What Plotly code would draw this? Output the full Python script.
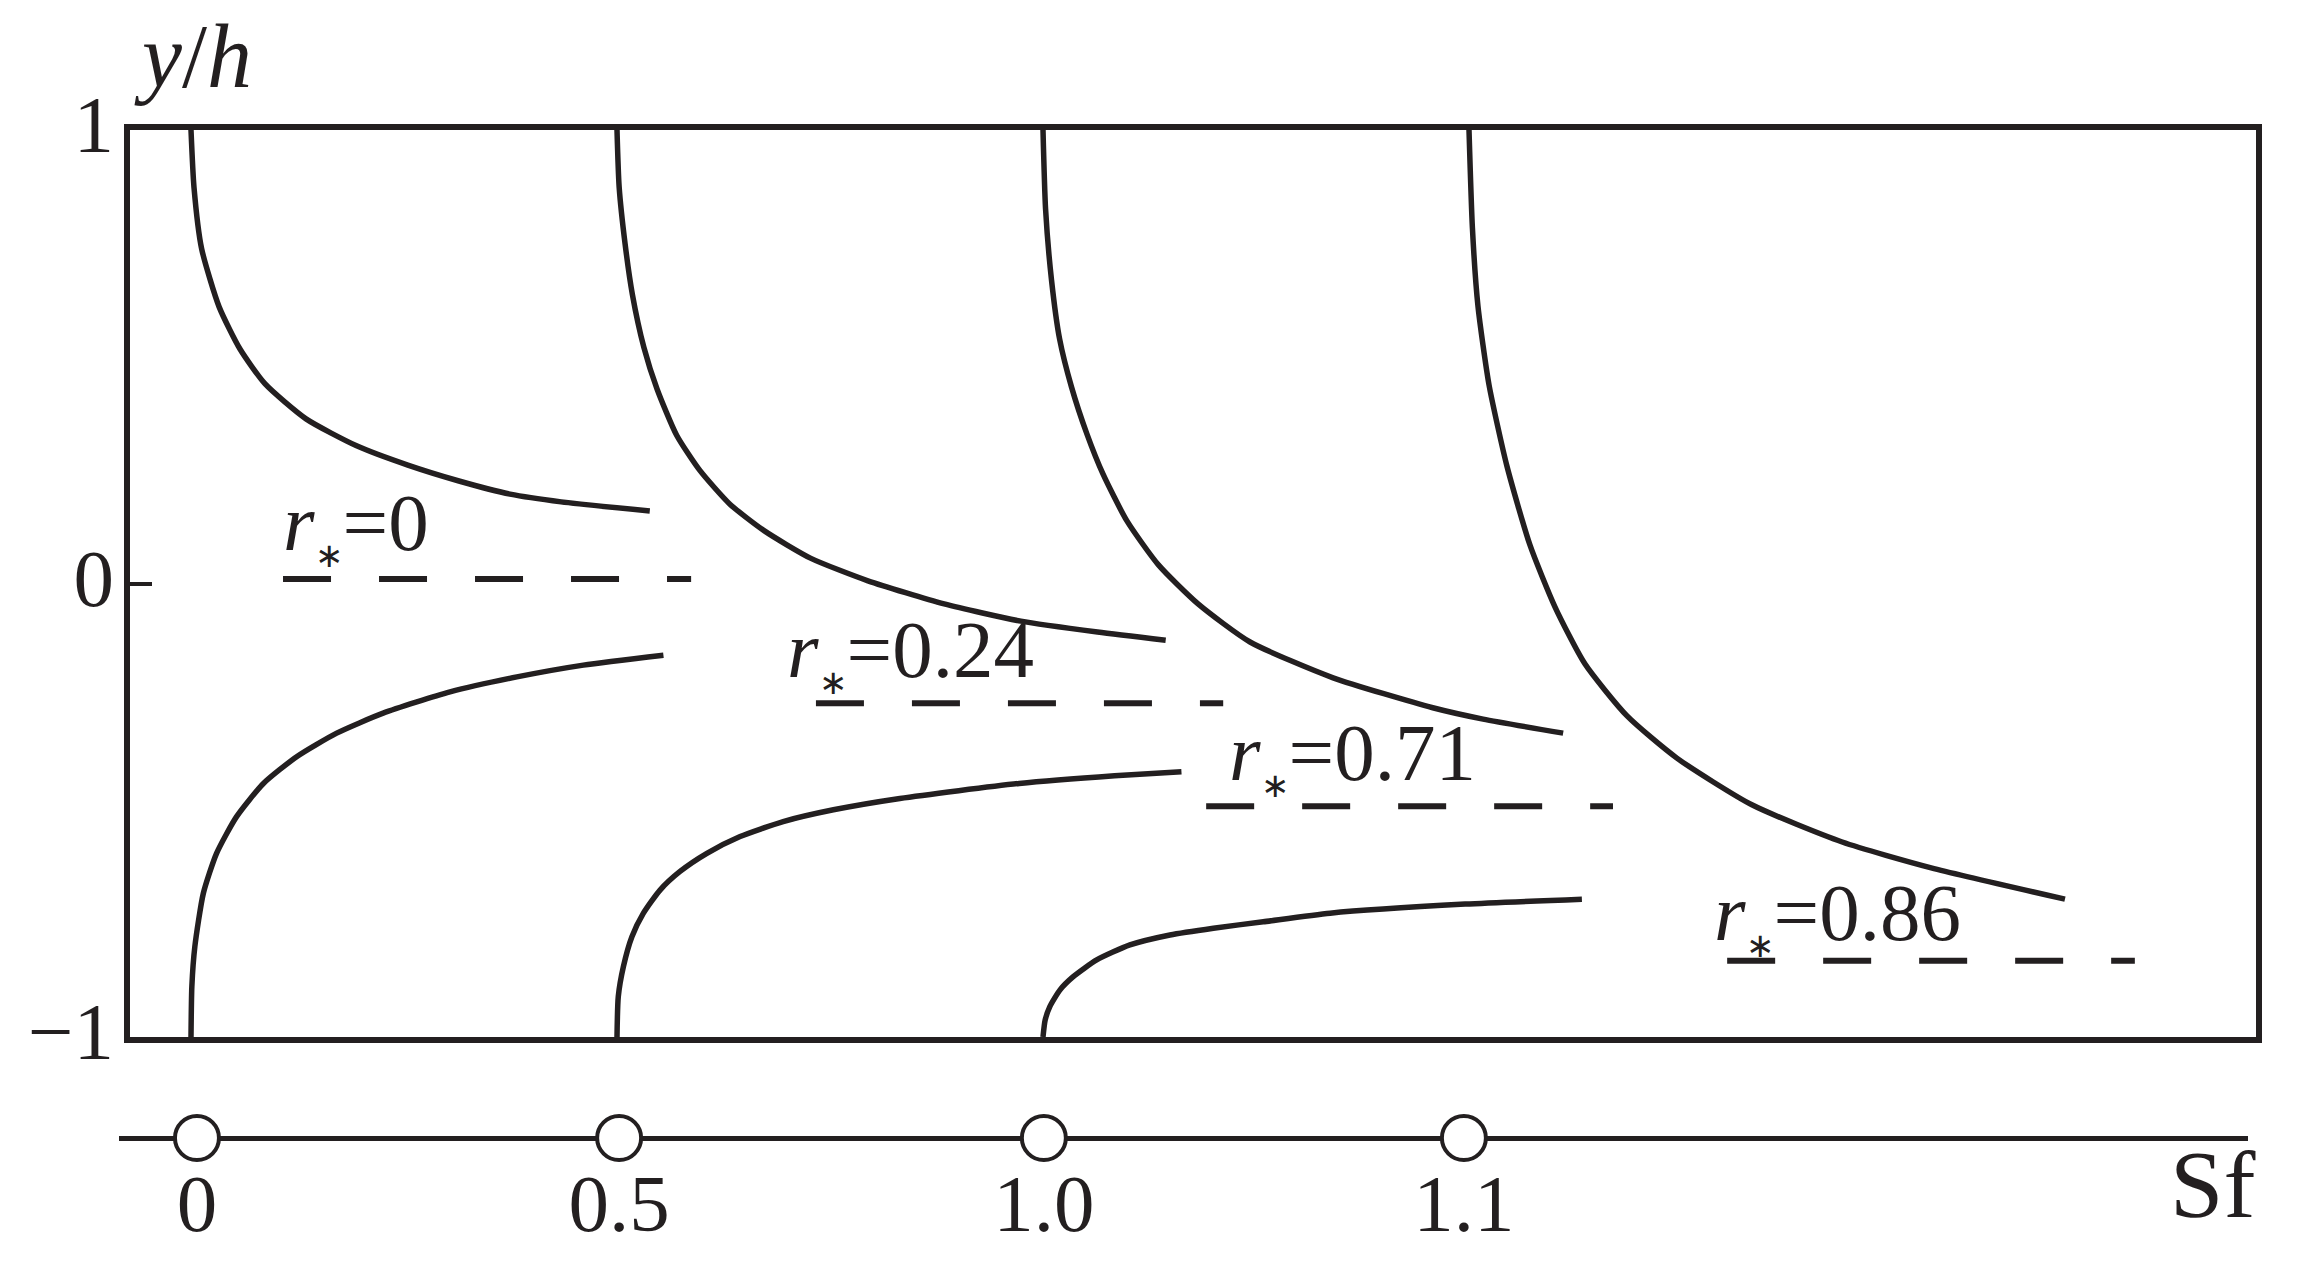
import plotly.graph_objects as go


# ── Dados ────────────────────────────────────────────────────────────────────
# eixo horizontal esquemático: cada unidade = um valor de Sf (0, 0.5, 1.0, 1.1)
sf_labels = ["0", "0.5", "1.0", "1.1"]
sf_pos    = [0.014, 1.005, 2.002, 2.988]

r_labels = ["0", "0.24", "0.71", "0.86"]

# ramos superiores (y/h = 1 → assíntota)
sup_x = [
  [0.000, 0.007, 0.025, 0.066, 0.115, 0.174, 0.270, 0.390, 0.509, 0.629, 0.749, 0.869, 1.077],
  [1.000, 1.005, 1.019, 1.036, 1.063, 1.094, 1.140, 1.194, 1.265, 1.346, 1.454, 1.589, 1.768,
   1.948, 2.128, 2.288],
  [2.000, 2.006, 2.020, 2.039, 2.067, 2.103, 2.141, 2.197, 2.271, 2.364, 2.486, 2.681, 2.915,
   3.033, 3.221],
  [3.000, 3.008, 3.021, 3.047, 3.089, 3.143, 3.202, 3.272, 3.371, 3.488, 3.664, 3.876, 4.085,
   4.399],
]
sup_y = [
  [1.000, 0.874, 0.738, 0.610, 0.517, 0.440, 0.363, 0.303, 0.261, 0.226, 0.197, 0.180, 0.160],
  [1.000, 0.875, 0.749, 0.638, 0.521, 0.429, 0.327, 0.250, 0.175, 0.116, 0.056, 0.006, -0.045,
   -0.083, -0.107, -0.125],
  [1.000, 0.826, 0.669, 0.539, 0.433, 0.330, 0.241, 0.138, 0.041, -0.045, -0.129, -0.208, -0.274,
   -0.299, -0.330],
  [1.000, 0.784, 0.612, 0.438, 0.259, 0.085, -0.052, -0.177, -0.292, -0.385, -0.488, -0.570,
   -0.627, -0.696],
]

# ramos inferiores (y/h = -1 → assíntota); r*=0.86 não tem
inf_x = [
  [0.000, 0.002, 0.009, 0.029, 0.060, 0.107, 0.170, 0.248, 0.342, 0.451, 0.608, 0.765, 0.921, 1.109],
  [1.000, 1.003, 1.015, 1.035, 1.062, 1.101, 1.148, 1.211, 1.289, 1.390, 1.508, 1.664, 1.944,
   2.168, 2.325],
  [2.000, 2.005, 2.016, 2.040, 2.071, 2.126, 2.204, 2.298, 2.400, 2.517, 2.674, 2.991, 3.265],
]
inf_y = [
  [-1.000, -0.889, -0.801, -0.683, -0.595, -0.514, -0.441, -0.382, -0.330, -0.286, -0.239,
   -0.206, -0.180, -0.158],
  [-1.000, -0.911, -0.845, -0.779, -0.727, -0.676, -0.635, -0.595, -0.558, -0.525, -0.499,
   -0.474, -0.441, -0.424, -0.415],
  [-1.000, -0.963, -0.933, -0.896, -0.867, -0.830, -0.797, -0.775, -0.760, -0.746, -0.727,
   -0.707, -0.696],
]

# linhas tracejadas (assíntotas) e posição dos rótulos r*
tracejado_x0 = [0.216, 1.467, 2.383, 3.606]
tracejado_x1 = [1.174, 2.423, 3.338, 4.563]
tracejado_y  = [0.010, -0.264, -0.491, -0.832]

rotulo_x = [0.225, 1.408, 2.445, 3.585]
rotulo_y = [0.067, -0.213, -0.440, -0.793]


# ── Geometria da página (pixels da janela 2324×1270) ─────────────────────────
OFF = 8                         # margem padrão do <body> no navegador
W, H = 2324 - 2 * OFF, 1270 - 2 * OFF
M = dict(l=92, r=42, t=112, b=12)
U0_PX, U_PX = 191, 426          # pixel de Sf-pos 0 e largura de uma unidade
FONTE = "Liberation Serif, Times New Roman, serif"
PRETO = "#231f20"


def _px_x(px: float) -> float:
  return (px - OFF - M["l"]) / (W - M["l"] - M["r"])


def _px_y(py: float) -> float:
  return (H - M["b"] - (py - OFF)) / (H - M["t"] - M["b"])


def _u(px: float) -> float:
  return (px - U0_PX) / U_PX


fig = go.Figure()

# ── Curvas ───────────────────────────────────────────────────────────────────
for xs, ys in list(zip(sup_x, sup_y)) + list(zip(inf_x, inf_y)):
  fig.add_trace(go.Scatter(
    x=xs, y=ys, mode="lines",
    line=dict(color=PRETO, width=5.5, shape="spline", smoothing=0.6),
    hoverinfo="skip", showlegend=False, cliponaxis=False,
  ))

for x0, x1, yv in zip(tracejado_x0, tracejado_x1, tracejado_y):
  fig.add_trace(go.Scatter(
    x=[x0, x1], y=[yv, yv], mode="lines",
    line=dict(color=PRETO, width=6, dash="48px,48px"),
    hoverinfo="skip", showlegend=False,
  ))

for xv, yv, r in zip(rotulo_x, rotulo_y, r_labels):
  fig.add_annotation(
    x=xv, y=yv, xref="x", yref="y", xanchor="left", yanchor="bottom",
    text=f"<i>r</i><sub><span style='font-size:34px'>∗</span></sub>={r}",
    showarrow=False, xshift=-6, yshift=-23,
    font=dict(family=FONTE, size=81, color=PRETO),
  )

# ── Faixa inferior com os valores de Sf ──────────────────────────────────────
fig.add_trace(go.Scatter(
  x=sf_pos, y=[0] * len(sf_pos), xaxis="x2", yaxis="y2", mode="markers",
  marker=dict(symbol="circle", size=44, color="white",
              line=dict(color=PRETO, width=4)),
  hoverinfo="skip", showlegend=False, cliponaxis=False,
))

fig.add_annotation(
  x=_px_x(2212), y=_px_y(1240), xref="paper", yref="paper",
  xanchor="center", yanchor="bottom", text="Sf", showarrow=False,
  font=dict(family=FONTE, size=96, color=PRETO),
)
fig.add_annotation(
  x=_px_x(132), y=_px_y(108), xref="paper", yref="paper",
  xanchor="left", yanchor="bottom", text="<i>y</i>/<i>h</i>", showarrow=False,
  font=dict(family=FONTE, size=90, color=PRETO),
)

fig.update_layout(
  template="none",
  width=W, height=H, margin=M,
  paper_bgcolor="white", plot_bgcolor="white",
  font=dict(family=FONTE, color=PRETO),
  xaxis=dict(
    domain=[_px_x(130), _px_x(2256)], range=[_u(130), _u(2256)], automargin=False,
    showline=True, mirror=True, linewidth=5.5, linecolor=PRETO,
    showgrid=False, zeroline=False, ticks="", showticklabels=False,
  ),
  yaxis=dict(
    domain=[_px_y(1037), _px_y(130)], range=[-1, 1], automargin=False,
    showline=True, mirror=True, linewidth=5.5, linecolor=PRETO,
    showgrid=False, zeroline=False,
    ticks="inside", ticklen=22, tickwidth=4, tickcolor=PRETO,
    tickvals=[-1, 0, 1], ticktext=["−1", "0", "1"],
    tickfont=dict(family=FONTE, size=81, color=PRETO),
    ticklabelstandoff=-6, ticklabelshift=-6,
  ),
  xaxis2=dict(
    domain=[_px_x(119), _px_x(2248)], range=[_u(119), _u(2248)], automargin=False,
    anchor="y2", showline=False, showgrid=False, zeroline=False, ticks="",
    tickvals=sf_pos, ticktext=sf_labels, ticklabelstandoff=-5,
    tickfont=dict(family=FONTE, size=81, color=PRETO),
  ),
  yaxis2=dict(
    domain=[_px_y(1154), _px_y(1122)], range=[-1, 1], anchor="x2", automargin=False,
    showline=False, showgrid=False, showticklabels=False, ticks="",
    zeroline=True, zerolinewidth=4.5, zerolinecolor=PRETO,
  ),
)

fig.write_html("out.html")
